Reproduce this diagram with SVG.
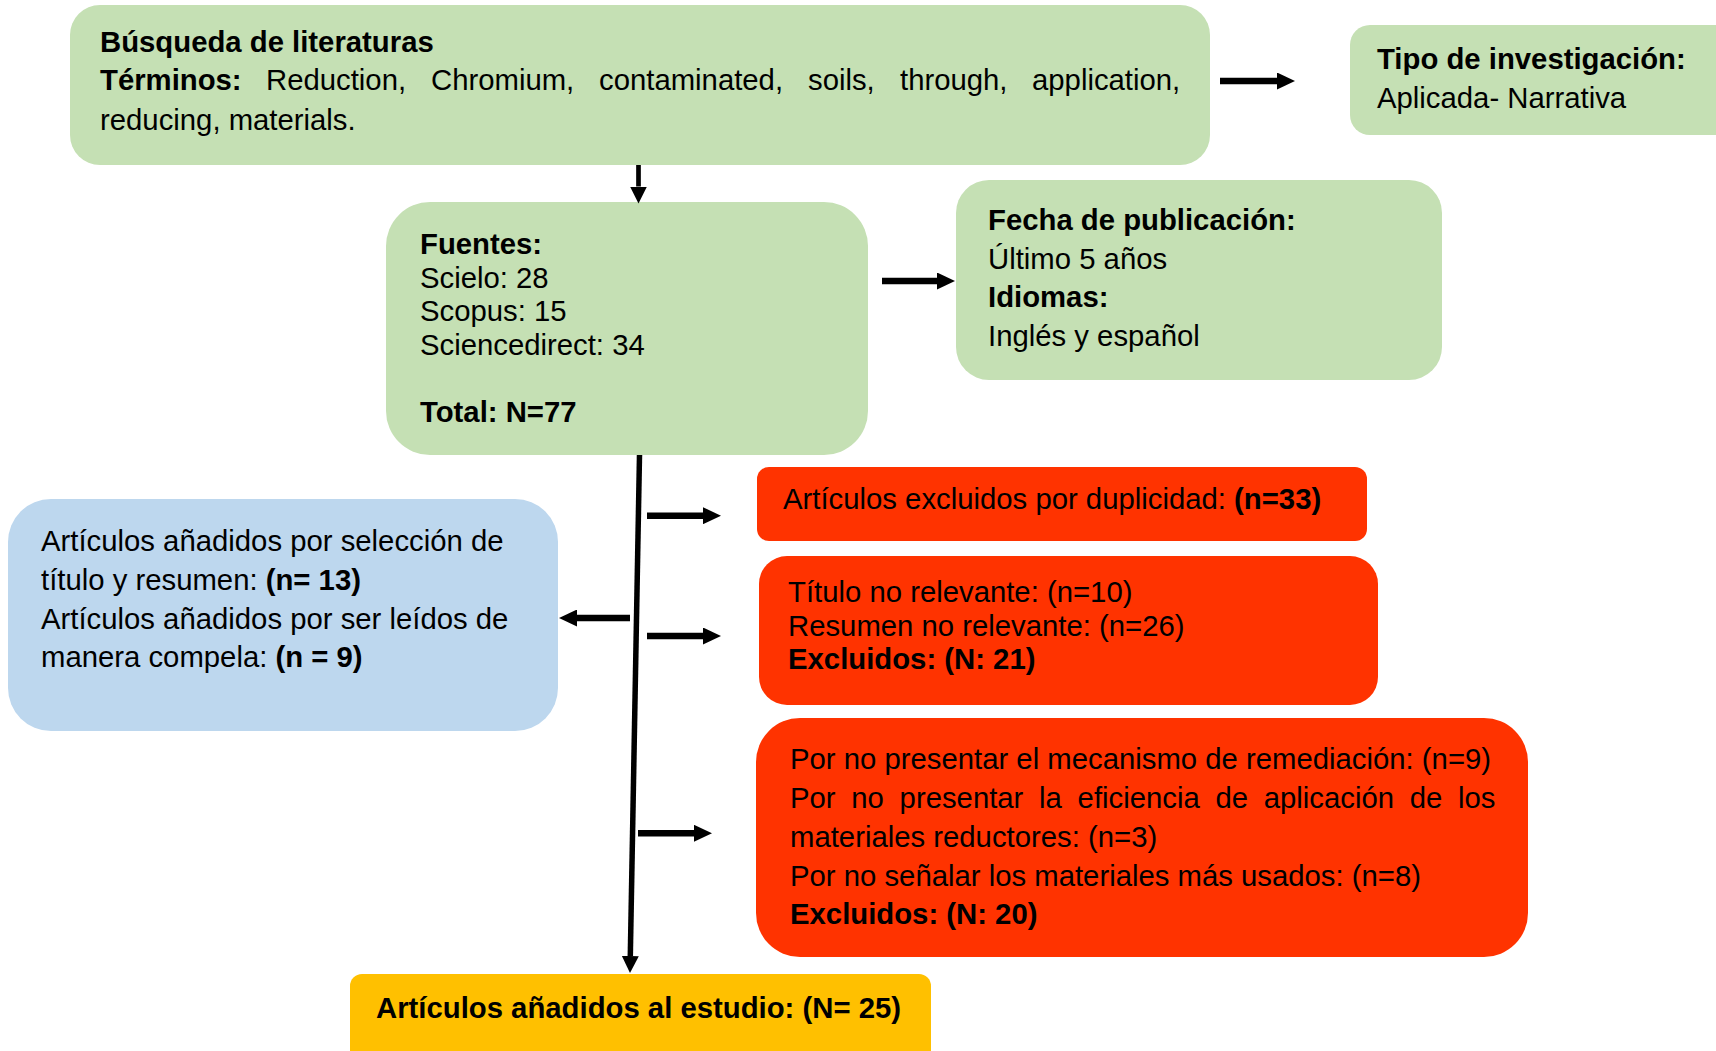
<svg xmlns="http://www.w3.org/2000/svg" width="1716" height="1051" viewBox="0 0 1716 1051">
<style>
text{font-family:"Liberation Sans",Arial,sans-serif;font-size:29.3px;fill:#000}
.b{font-weight:bold}
.g{fill:#C5E0B4}
.bl{fill:#BDD7EE}
.r{fill:#FF3300}
.y{fill:#FFC000}
.c{stroke:#000;fill:none}
.h{stroke-width:6.5}
</style>
<defs>
<marker id="ah" markerUnits="userSpaceOnUse" markerWidth="18" markerHeight="17" viewBox="0 0 18 17" refX="0" refY="8.5" orient="auto"><path d="M0,0 L18,8.5 L0,17 Z" fill="#000"/></marker>
<marker id="av" markerUnits="userSpaceOnUse" markerWidth="17" markerHeight="17" viewBox="0 0 17 17" refX="0" refY="8.5" orient="auto"><path d="M0,0 L17,8.5 L0,17 Z" fill="#000"/></marker>
</defs>
<rect width="1716" height="1051" fill="#fff"/>

<g id="busqueda">
<rect class="g" x="70" y="5" width="1140" height="160" rx="30"/>
<text class="b" x="100" y="52">Búsqueda de literaturas</text>
<text y="89.5"><tspan class="b" x="100">Términos:</tspan><tspan x="266">Reduction,</tspan><tspan x="431">Chromium,</tspan><tspan x="599">contaminated,</tspan><tspan x="808">soils,</tspan><tspan x="900">through,</tspan><tspan x="1032">application,</tspan></text>
<text x="100" y="130">reducing, materials.</text>
</g>

<g id="tipo">
<rect class="g" x="1350" y="25" width="420" height="110" rx="20"/>
<text class="b" x="1377" y="69">Tipo de investigación:</text>
<text x="1377" y="108">Aplicada- Narrativa</text>
</g>

<g id="fuentes">
<rect class="g" x="386" y="202" width="482" height="253" rx="44"/>
<text class="b" x="420" y="254">Fuentes:</text>
<text x="420" y="288">Scielo: 28</text>
<text x="420" y="321">Scopus: 15</text>
<text x="420" y="354.5">Sciencedirect: 34</text>
<text class="b" x="420" y="422">Total: N=77</text>
</g>

<g id="fecha">
<rect class="g" x="956" y="180" width="486" height="200" rx="33"/>
<text class="b" x="988" y="230">Fecha de publicación:</text>
<text x="988" y="269">Último 5 años</text>
<text class="b" x="988" y="307">Idiomas:</text>
<text x="988" y="346">Inglés y español</text>
</g>

<g id="anadidos">
<rect class="bl" x="8" y="499" width="550" height="232" rx="43"/>
<text x="41" y="550.5">Artículos añadidos por selección de</text>
<text x="41" y="589.5">título y resumen: <tspan class="b">(n= 13)</tspan></text>
<text x="41" y="629">Artículos añadidos por ser leídos de</text>
<text x="41" y="667">manera compela: <tspan class="b">(n = 9)</tspan></text>
</g>

<g id="duplicidad">
<rect class="r" x="757" y="467" width="610" height="74" rx="12"/>
<text x="783" y="508.5">Artículos excluidos por duplicidad: <tspan class="b">(n=33)</tspan></text>
</g>

<g id="titulo">
<rect class="r" x="759" y="556" width="619" height="149" rx="28"/>
<text x="788" y="601.5">Título no relevante: (n=10)</text>
<text x="788" y="635.5">Resumen no relevante: (n=26)</text>
<text class="b" x="788" y="668.5">Excluidos: (N: 21)</text>
</g>

<g id="lectura">
<rect class="r" x="756" y="718" width="772" height="239" rx="44"/>
<text x="790" y="768.5">Por no presentar el mecanismo de remediación: (n=9)</text>
<text y="807.5"><tspan x="790">Por</tspan><tspan x="851.3">no</tspan><tspan x="899.6">presentar</tspan><tspan x="1039.1">la</tspan><tspan x="1077.6">eficiencia</tspan><tspan x="1215.4">de</tspan><tspan x="1263.7">aplicación</tspan><tspan x="1409.7">de</tspan><tspan x="1458">los</tspan></text>
<text x="790" y="847">materiales reductores: (n=3)</text>
<text x="790" y="885.5">Por no señalar los materiales más usados: (n=8)</text>
<text class="b" x="790" y="924">Excluidos: (N: 20)</text>
</g>

<g id="estudio">
<rect class="y" x="350" y="974" width="581" height="100" rx="12"/>
<text class="b" x="376" y="1017.5">Artículos añadidos al estudio: (N= 25)</text>
</g>

<g id="connectors">
<line class="c h" x1="1220" y1="81" x2="1277" y2="81" marker-end="url(#ah)"/>
<line class="c" stroke-width="4.7" x1="638.5" y1="165" x2="638.5" y2="186.5" marker-end="url(#av)"/>
<line class="c h" x1="882" y1="281" x2="937" y2="281" marker-end="url(#ah)"/>
<line class="c" stroke-width="5.5" x1="639.5" y1="455" x2="630.3" y2="956" marker-end="url(#av)"/>
<line class="c h" x1="647" y1="515.7" x2="703" y2="515.7" marker-end="url(#ah)"/>
<line class="c h" x1="647" y1="636" x2="703" y2="636" marker-end="url(#ah)"/>
<line class="c h" x1="630" y1="618" x2="577" y2="618" marker-end="url(#ah)"/>
<line class="c h" x1="638" y1="833.3" x2="694" y2="833.3" marker-end="url(#ah)"/>
</g>
</svg>
